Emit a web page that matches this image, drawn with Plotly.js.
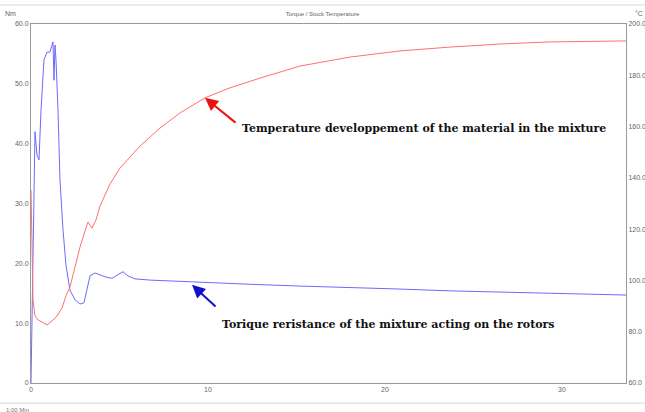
<!DOCTYPE html>
<html><head><meta charset="utf-8">
<script src="https://cdn.plot.ly/plotly-3.0.1.min.js"></script>
<style>html,body{margin:0;padding:0;background:#fff}#c{width:645px;height:412px}</style>
</head><body><div id="c"></div>
<script>
// Torque (Nm, left axis) vs time (min)
const torqueTime = [0,0.113,0.226,0.339,0.452,0.565,0.734,0.904,1.073,1.186,1.243,1.299,1.356,1.412,1.525,1.638,1.808,1.977,2.203,2.486,2.768,2.994,3.164,3.333,3.616,3.898,4.237,4.576,4.915,5.198,5.480,5.876,6.723,8.136,9.548,12.37,15.20,18.02,20.85,23.67,26.50,29.32,32.15,33.62];
const torqueVal  = [0,22.2,42.0,38.1,37.3,45.6,54.0,55.3,55.3,56.5,57.0,50.6,56.5,54.0,45.6,33.9,25.6,19.7,15.5,13.9,13.2,13.4,15.5,17.9,18.4,18.1,17.7,17.5,18.1,18.6,17.9,17.4,17.2,17.0,16.9,16.5,16.2,16.0,15.7,15.4,15.2,15.0,14.7,14.7];
// Stock temperature (°C, right axis) vs time (min)
const tempTime = [0,0.056,0.113,0.226,0.395,0.621,0.904,1.186,1.469,1.751,1.977,2.203,2.486,2.768,3.051,3.220,3.446,3.672,3.898,4.463,5.028,6.158,7.288,8.418,9.831,11.24,12.94,15.20,18.02,20.85,23.67,26.50,29.32,32.15,33.62];
const tempVal  = [135.3,108.0,92.4,86.1,84.6,83.8,82.6,84.2,86.1,89.2,94.0,97.4,105.2,113.0,119.3,122.8,120.4,123.6,129.0,137.6,143.8,152.4,159.4,165.3,171.2,175.1,178.9,183.6,187.1,189.5,191.0,192.2,193.0,193.4,193.4];
const xTicks = [0,10,20,30];
const leftTicks = [0,10,20,30,40,50,60];
const rightTicks = [60,80,100,120,140,160,180,200];
const chartTitle = "Torque / Stock Temperature";
const tempLabel = "Temperature developpement of the material in the mixture";
const torqueLabel = "Torique reristance of the mixture acting on the rotors";

function tf(){ return {family:"Liberation Sans, Arial", size:7, color:"#666666"}; }
function axisCommon(){ return {showgrid:false, zeroline:false, showline:true, linecolor:"#9a9a9a", linewidth:1, ticks:"", tickfont:tf(), fixedrange:true}; }

const data = [
  {x:torqueTime, y:torqueVal, type:"scatter", mode:"lines", line:{color:"#6a6aff", width:1}, yaxis:"y", hoverinfo:"skip"},
  {x:tempTime, y:tempVal, type:"scatter", mode:"lines", line:{color:"#ff7070", width:1}, yaxis:"y2", hoverinfo:"skip"}
];

const labelFont = {family:"DejaVu Serif", size:11, color:"#111"};
const layout = {
  width:645, height:412,
  margin:{l:31, r:19, t:24, b:29},
  paper_bgcolor:"#fff", plot_bgcolor:"#fff",
  showlegend:false,
  title:{text:chartTitle, font:{family:"Liberation Sans, Arial", size:6, color:"#666"}, x:0.5, xanchor:"center", y:0.967, yanchor:"middle"},
  xaxis:Object.assign(axisCommon(), {range:[0,33.62], tickvals:xTicks, ticktext:xTicks.map(String), mirror:true}),
  yaxis:Object.assign(axisCommon(), {range:[0,60], tickvals:leftTicks, ticktext:leftTicks.map(v=>v===0?"0":v.toFixed(1))}),
  yaxis2:Object.assign(axisCommon(), {range:[60,200], overlaying:"y", side:"right", tickvals:rightTicks, ticktext:rightTicks.map(v=>v.toFixed(1))}),
  shapes:[
    {type:"line", xref:"paper", yref:"paper", x0:-0.06, x1:1.04, y0:1.053, y1:1.053, line:{color:"#d8d8d8", width:1}},
    {type:"line", xref:"paper", yref:"paper", x0:-0.06, x1:1.04, y0:-0.056, y1:-0.056, line:{color:"#d8d8d8", width:1}}
  ],
  annotations:[
    {x:9.831, y:171.2, xref:"x", yref:"y2", ax:32, ay:26, showarrow:true, arrowhead:2, arrowsize:1.3, arrowwidth:2, arrowcolor:"#ee1111", text:""},
    {x:9.10, y:16.4, xref:"x", yref:"y", ax:25, ay:23, showarrow:true, arrowhead:2, arrowsize:1.3, arrowwidth:2, arrowcolor:"#1111cc", text:""},
    {x:0.351, y:0.710, xref:"paper", yref:"paper", xanchor:"left", yanchor:"middle", showarrow:false, text:"<b>"+tempLabel+"</b>", font:labelFont},
    {x:0.318, y:0.162, xref:"paper", yref:"paper", xanchor:"left", yanchor:"middle", showarrow:false, text:"<b>"+torqueLabel+"</b>", font:labelFont},
    {x:-0.035, y:1.03, xref:"paper", yref:"paper", xanchor:"center", yanchor:"middle", showarrow:false, text:"Nm", font:tf()},
    {x:1.022, y:1.03, xref:"paper", yref:"paper", xanchor:"center", yanchor:"middle", showarrow:false, text:"°C", font:tf()},
    {x:-0.045, y:-0.062, xref:"paper", yref:"paper", xanchor:"left", yanchor:"top", showarrow:false, text:"1:00 Min", font:{family:"Liberation Sans, Arial", size:6, color:"#777"}}
  ]
};
Plotly.newPlot("c", data, layout, {displayModeBar:false, staticPlot:true});
</script></body></html>
